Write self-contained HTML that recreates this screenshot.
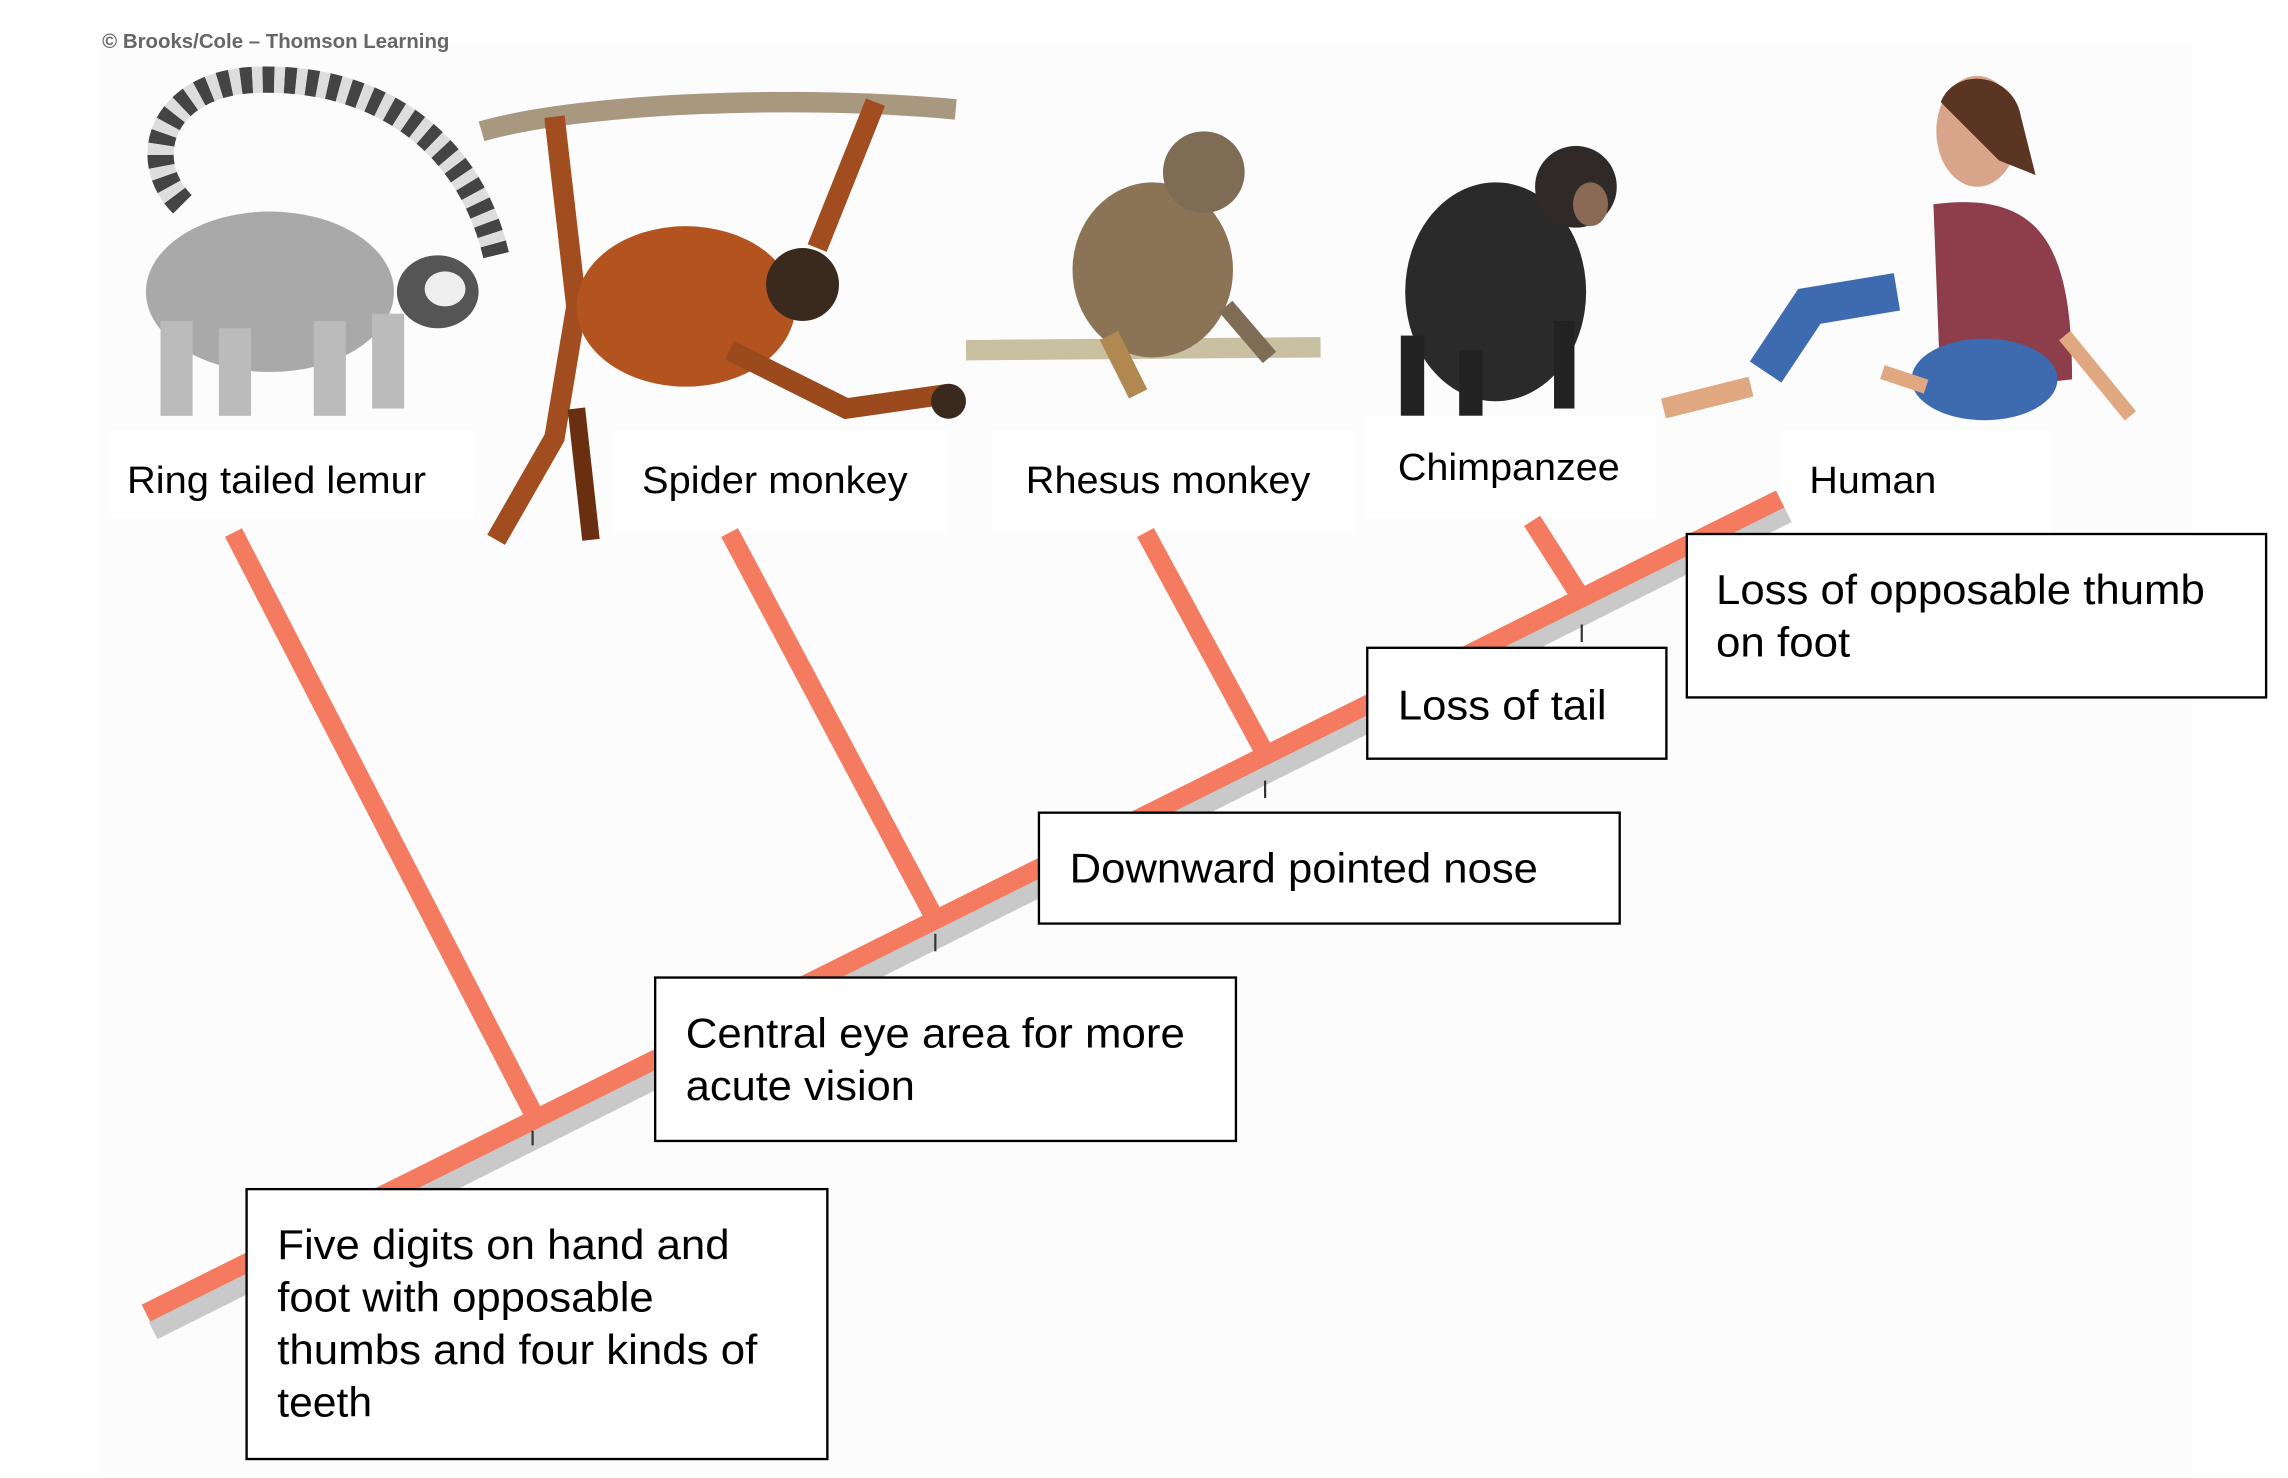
<!DOCTYPE html>
<html><head><meta charset="utf-8"><style>
html,body{margin:0;padding:0;background:#fff;}
svg{display:block}
text{font-family:"Liberation Sans",Arial,sans-serif;fill:#000}
</style></head><body>
<svg width="2288" height="1478" viewBox="0 0 1568 1013" preserveAspectRatio="none" xmlns="http://www.w3.org/2000/svg">
<rect width="1568" height="1013" fill="#fff"/>
<rect x="70" y="30" width="1432" height="980" fill="#fcfcfc"/>
<rect x="1505" y="620" width="63" height="393" fill="#fff"/>
<text x="70" y="33" font-size="14" font-weight="bold" style="fill:#666">© Brooks/Cole – Thomson Learning</text>

<!-- lemur -->
<g>
<path d="M125,140 C95,110 110,60 170,55 C250,50 320,90 340,175" fill="none" stroke="#444" stroke-width="18" stroke-dasharray="8 7"/>
<path d="M125,140 C95,110 110,60 170,55 C250,50 320,90 340,175" fill="none" stroke="#ddd" stroke-width="18" stroke-dasharray="7 8" stroke-dashoffset="7"/>
<ellipse cx="185" cy="200" rx="85" ry="55" fill="#a9a9a9"/>
<ellipse cx="300" cy="200" rx="28" ry="25" fill="#555"/>
<ellipse cx="305" cy="198" rx="14" ry="12" fill="#eee"/>
<rect x="110" y="220" width="22" height="65" fill="#bbb"/>
<rect x="150" y="225" width="22" height="60" fill="#bbb"/>
<rect x="215" y="220" width="22" height="65" fill="#bbb"/>
<rect x="255" y="215" width="22" height="65" fill="#bbb"/>
</g>
<!-- spider monkey -->
<g>
<path d="M330,90 C400,70 550,65 655,75" stroke="#a89880" stroke-width="14" fill="none"/>
<path d="M380,80 L395,210 L380,300 L340,370" stroke="#a24d1f" stroke-width="14" fill="none"/>
<path d="M395,280 L405,370" stroke="#6a2f10" stroke-width="12" fill="none"/>
<path d="M600,70 L560,170" stroke="#a24d1f" stroke-width="14" fill="none"/>
<ellipse cx="470" cy="210" rx="75" ry="55" fill="#b3531f"/>
<circle cx="550" cy="195" r="25" fill="#3a2a1e"/>
<path d="M500,240 L580,280 L650,270" stroke="#9a4a1c" stroke-width="14" fill="none"/>
<circle cx="650" cy="275" r="12" fill="#3a2a1e"/>
</g>
<!-- rhesus -->
<g>
<path d="M662,240 L905,238" stroke="#c8c0a0" stroke-width="14"/>
<ellipse cx="790" cy="185" rx="55" ry="60" fill="#8a7455"/>
<circle cx="825" cy="118" r="28" fill="#7e6c55"/>
<path d="M760,230 L780,270" stroke="#b08850" stroke-width="14"/>
<path d="M840,210 L870,245" stroke="#7e6c55" stroke-width="12"/>
</g>
<!-- chimp -->
<g>
<ellipse cx="1025" cy="200" rx="62" ry="75" fill="#2a2a2a"/>
<circle cx="1080" cy="128" r="28" fill="#2f2a28"/>
<ellipse cx="1090" cy="140" rx="12" ry="15" fill="#8a6a55"/>
<rect x="960" y="230" width="16" height="55" fill="#222"/>
<rect x="1000" y="240" width="16" height="45" fill="#222"/>
<rect x="1065" y="220" width="14" height="60" fill="#222"/>
</g>
<!-- human -->
<g>
<path d="M1325,140 C1400,130 1420,170 1420,260 L1330,270 Z" fill="#8e3d4a"/>
<ellipse cx="1355" cy="90" rx="28" ry="38" fill="#d9a58a"/>
<path d="M1330,70 C1340,45 1380,50 1385,80 L1395,120 L1370,110 Z" fill="#5a3522"/>
<path d="M1300,200 L1240,210 L1210,255" stroke="#3e6bb0" stroke-width="26" fill="none"/>
<ellipse cx="1360" cy="260" rx="50" ry="28" fill="#3e6bb0"/>
<path d="M1140,280 L1200,265" stroke="#e0a880" stroke-width="14"/>
<path d="M1290,255 L1320,265" stroke="#e0a880" stroke-width="10"/>
<path d="M1415,230 L1460,285" stroke="#e0a880" stroke-width="10"/>
</g>

<!-- label backgrounds -->
<rect x="75" y="295" width="250" height="60" fill="#fff"/>
<rect x="420" y="295" width="230" height="70" fill="#fff"/>
<rect x="680" y="295" width="250" height="70" fill="#fff"/>
<rect x="935" y="285" width="200" height="70" fill="#fff"/>
<rect x="1220" y="295" width="185" height="70" fill="#fff"/>
<text x="87" y="338" font-size="26" textLength="205" lengthAdjust="spacingAndGlyphs">Ring tailed lemur</text>
<text x="440" y="338" font-size="26" textLength="182" lengthAdjust="spacingAndGlyphs">Spider monkey</text>
<text x="703" y="338" font-size="26" textLength="195" lengthAdjust="spacingAndGlyphs">Rhesus monkey</text>
<text x="958" y="329" font-size="26" textLength="152" lengthAdjust="spacingAndGlyphs">Chimpanzee</text>
<text x="1240" y="338" font-size="26" textLength="87" lengthAdjust="spacingAndGlyphs">Human</text>

<!-- tree shadow -->
<g stroke="#c9c9c9" stroke-width="13" stroke-linecap="butt">
<line x1="105" y1="912" x2="1225" y2="352"/>
</g>
<!-- tree -->
<g stroke="#f47a60" stroke-width="13" stroke-linecap="butt">
<line x1="100" y1="900" x2="1220" y2="342"/>
<line x1="160" y1="365" x2="368" y2="768"/>
<line x1="500" y1="365" x2="642" y2="632"/>
<line x1="785" y1="365" x2="870" y2="522"/>
<line x1="1050" y1="357" x2="1085" y2="412"/>
</g>
<g stroke="#333" stroke-width="1.5">
<line x1="365" y1="775" x2="365" y2="785"/>
<line x1="641" y1="640" x2="641" y2="652"/>
<line x1="867" y1="535" x2="867" y2="547"/>
<line x1="1084" y1="428" x2="1084" y2="440"/>
</g>

<!-- boxes -->
<g fill="#fff" stroke="#000" stroke-width="1.6">
<rect x="169" y="815" width="398" height="185"/>
<rect x="449" y="670" width="398" height="112"/>
<rect x="712" y="557" width="398" height="76"/>
<rect x="937" y="444" width="205" height="76"/>
<rect x="1156" y="366" width="397" height="112"/>
</g>
<g font-size="28.5" lengthAdjust="spacingAndGlyphs">
<text x="190" y="863" textLength="310" lengthAdjust="spacingAndGlyphs">Five digits on hand and</text>
<text x="190" y="899" textLength="258" lengthAdjust="spacingAndGlyphs">foot with opposable</text>
<text x="190" y="935" textLength="329" lengthAdjust="spacingAndGlyphs">thumbs and four kinds of</text>
<text x="190" y="971" textLength="65" lengthAdjust="spacingAndGlyphs">teeth</text>
<text x="470" y="718" textLength="342" lengthAdjust="spacingAndGlyphs">Central eye area for more</text>
<text x="470" y="754" textLength="157" lengthAdjust="spacingAndGlyphs">acute vision</text>
<text x="733" y="605" textLength="321" lengthAdjust="spacingAndGlyphs">Downward pointed nose</text>
<text x="958" y="493" textLength="143" lengthAdjust="spacingAndGlyphs">Loss of tail</text>
<text x="1176" y="414" textLength="335" lengthAdjust="spacingAndGlyphs">Loss of opposable thumb</text>
<text x="1176" y="450" textLength="92" lengthAdjust="spacingAndGlyphs">on foot</text>
</g>
</svg>
</body></html>
